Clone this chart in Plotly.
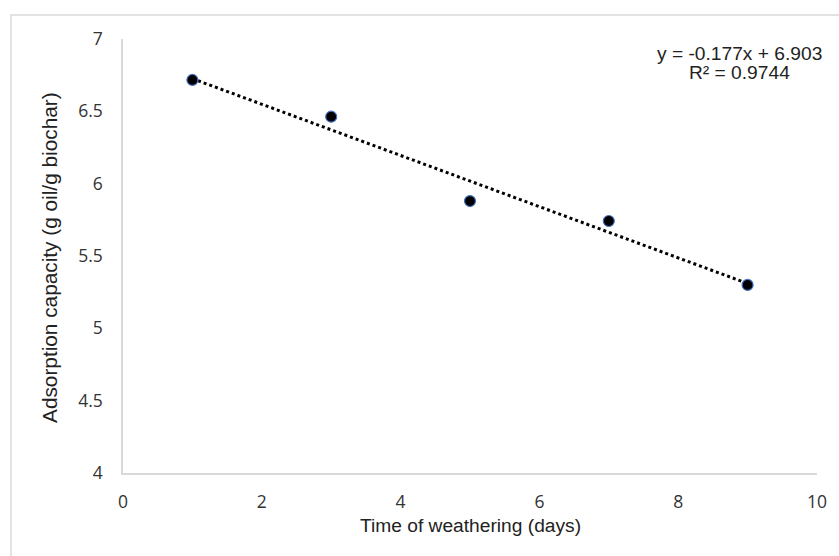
import plotly.graph_objects as go

# Data
days = [1, 3, 5, 7, 9]
capacity = [6.717, 6.463, 5.88, 5.742, 5.30]
slope = -0.177
intercept = 6.903
eq_text = "y = -0.177x + 6.903"
r2_text = "R² = 0.9744"
x_ticks = [0, 2, 4, 6, 8, 10]
y_ticks = [4, 4.5, 5, 5.5, 6, 6.5, 7]
y_ticklabels = ["4", "4.5", "5", "5.5", "6", "6.5", "7"]

trend_x = [min(days), max(days)]
trend_y = [slope * v + intercept for v in trend_x]

fig = go.Figure()
fig.add_trace(go.Scatter(
    x=trend_x, y=trend_y, mode="lines",
    line=dict(color="black", width=3, dash="dot"),
    hoverinfo="skip", showlegend=False,
))
fig.add_trace(go.Scatter(
    x=days, y=capacity, mode="markers",
    marker=dict(color="black", size=11, line=dict(color="#4472C4", width=1.2)),
    showlegend=False,
))

tick_font = dict(family="Open Sans", size=17.5, color="#333333")
title_font = dict(family="Liberation Sans", size=19.2, color="#222222")
ytitle_font = dict(family="Liberation Sans", size=20.8, color="#222222")

fig.update_layout(
    width=839, height=556,
    margin=dict(l=123, r=22, t=39, b=83),
    paper_bgcolor="white", plot_bgcolor="white",
    xaxis=dict(range=[0, 10], tickvals=x_ticks, showgrid=False, zeroline=False,
               showline=True, linecolor="#d9d9d9", linewidth=1.5,
               tickfont=tick_font, ticks="", ticklabelstandoff=12),
    yaxis=dict(range=[4, 7], tickvals=y_ticks, ticktext=y_ticklabels, showgrid=False,
               zeroline=False, showline=True, linecolor="#d9d9d9", linewidth=1.5,
               tickfont=tick_font, ticks="", ticklabelstandoff=15),
    shapes=[dict(type="rect", xref="paper", yref="paper",
                 x0=-0.1614, x1=1.2, y0=-0.4, y1=1.0553,
                 line=dict(color="#d9d9d9", width=1.5), layer="below")],
    annotations=[
        dict(text="Time of weathering (days)", xref="paper", yref="paper",
             x=0.501, y=-0.1221, xanchor="center", yanchor="middle",
             showarrow=False, font=title_font),
        dict(text="Adsorption capacity (g oil/g biochar)", xref="paper", yref="paper",
             x=-0.1052, y=0.4977, xanchor="center", yanchor="middle", textangle=-90,
             showarrow=False, font=ytitle_font),
        dict(text=eq_text, xref="paper", yref="paper", x=0.889, y=0.9677,
             xanchor="center", yanchor="middle", showarrow=False, font=title_font),
        dict(text=r2_text, xref="paper", yref="paper", x=0.889, y=0.9217,
             xanchor="center", yanchor="middle", showarrow=False, font=title_font),
    ],
)

fig.write_html("out.html")
